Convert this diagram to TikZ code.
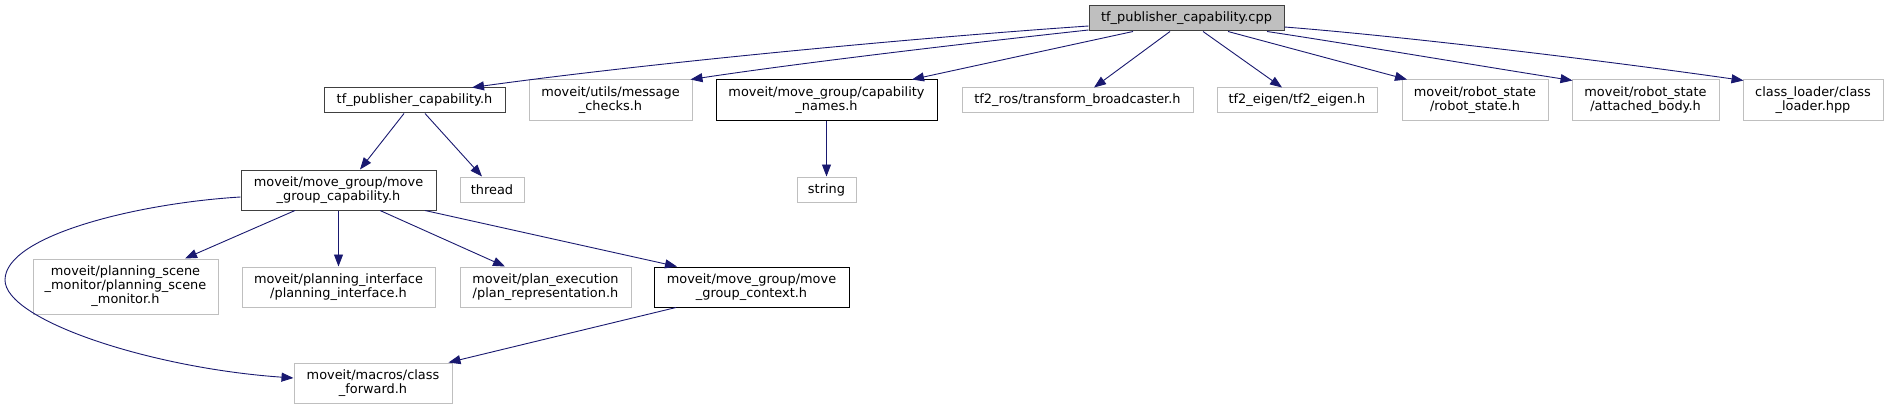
\documentclass[tikz,border=0pt]{standalone}
\usepackage{fontspec}
\setmainfont{DejaVu Sans}
\usetikzlibrary{arrows.meta,calc}
\definecolor{edgeblue}{RGB}{25,25,112}
\definecolor{greyline}{RGB}{191,191,191}
\definecolor{rootfill}{RGB}{191,191,191}
\definecolor{darkline}{RGB}{64,64,64}
\tikzset{
  base/.style={rectangle, inner sep=0pt, align=center, font=\fontsize{12.9}{14}\selectfont},
  rootbox/.style={base, draw=darkline, fill=rootfill, line width=1pt},
  docbox/.style={base, draw=black, line width=1pt},
  dgbox/.style={base, draw=darkline, line width=1pt},
  extbox/.style={base, draw=greyline, line width=1pt},
  dep/.style={draw=edgeblue, line width=0.9pt, -{Triangle[length=12pt,width=9pt]}, fill=none},
}
\begin{document}
\begin{tikzpicture}[x=1pt,y=-1pt]
\useasboundingbox[fill=white] (0,0) rectangle (1889,409);
% nodes
\node[rootbox, minimum width=195pt, minimum height=25pt] (cpp) at (1186.5,18.5) {tf\_publisher\_capability.cpp};
\node[dgbox, minimum width=181pt, minimum height=25pt] (tfh) at (414.5,100.5) {tf\_publisher\_capability.h};
\node[extbox, minimum width=163pt, minimum height=41pt] (msg) at (610.5,100.5) {moveit/utils/message\\\_checks.h};
\node[docbox, minimum width=221pt, minimum height=41pt] (capn) at (826.5,100.5) {moveit/move\_group/capability\\\_names.h};
\node[extbox, minimum width=231pt, minimum height=25pt] (tfb) at (1077.5,100.5) {tf2\_ros/transform\_broadcaster.h};
\node[extbox, minimum width=160pt, minimum height=25pt] (eig) at (1297,100.5) {tf2\_eigen/tf2\_eigen.h};
\node[extbox, minimum width=146pt, minimum height=41pt] (rs) at (1475,100.5) {moveit/robot\_state\\/robot\_state.h};
\node[extbox, minimum width=147pt, minimum height=41pt] (ab) at (1645.5,100.5) {moveit/robot\_state\\/attached\_body.h};
\node[extbox, minimum width=140pt, minimum height=41pt] (cl) at (1813,100.5) {class\_loader/class\\\_loader.hpp};
\node[dgbox, minimum width=195pt, minimum height=40pt] (mgc) at (338.5,190) {moveit/move\_group/move\\\_group\_capability.h};
\node[extbox, minimum width=64pt, minimum height=25pt] (thr) at (492,189.5) {thread};
\node[extbox, minimum width=59pt, minimum height=25pt] (str) at (826.5,189.5) {string};
\node[extbox, minimum width=185pt, minimum height=55pt] (psm) at (125.5,286.5) {moveit/planning\_scene\\\_monitor/planning\_scene\\\_monitor.h};
\node[extbox, minimum width=193pt, minimum height=40pt] (pi) at (338.5,287) {moveit/planning\_interface\\/planning\_interface.h};
\node[extbox, minimum width=171pt, minimum height=40pt] (pr) at (545.5,287) {moveit/plan\_execution\\/plan\_representation.h};
\node[docbox, minimum width=195pt, minimum height=40pt] (mgctx) at (751.5,287) {moveit/move\_group/move\\\_group\_context.h};
\node[extbox, minimum width=158pt, minimum height=40pt] (cf) at (373,383) {moveit/macros/class\\\_forward.h};
% edges from the cpp file
\draw[dep] ($(cpp.west)+(0,7.5)$) .. controls (899,39) and (642,64) .. ($(tfh.north)+(57.5,0)$);
\draw[dep] ($(cpp.west)+(0,11.5)$) .. controls (960,44) and (800,63) .. ($(msg.north east)+(-2,0)$);
\draw[dep] ($(cpp.south)+(-53.5,0)$) -- ($(capn.north)+(85.5,0)$);
\draw[dep] ($(cpp.south)+(-16.5,0)$) -- ($(tfb.north)+(16.5,0)$);
\draw[dep] ($(cpp.south)+(16.5,0)$) -- ($(eig.north)+(-15,0)$);
\draw[dep] ($(cpp.south)+(41.5,0)$) -- ($(rs.north)+(-68,0)$);
\draw[dep] ($(cpp.south)+(80.5,0)$) .. controls (1350,44) and (1480,66) .. ($(ab.north west)+(1,1)$);
\draw[dep] ($(cpp.east)+(0,8.5)$) .. controls (1400,36) and (1600,60) .. ($(cl.north west)+(1,1)$);
% second level
\draw[dep] ($(tfh.south)+(-10.5,0)$) -- ($(mgc.north)+(21.5,0)$);
\draw[dep] ($(tfh.south)+(10.5,0)$) -- ($(thr.north)+(-10,0)$);
\draw[dep] (capn.south) -- (str.north);
% third level
\draw[dep] ($(mgc.south)+(-43.5,0)$) -- ($(psm.north)+(59.5,0)$);
\draw[dep] (mgc.south) -- (pi.north);
\draw[dep] ($(mgc.south)+(41.5,0)$) -- ($(pr.north)+(-40.5,0)$);
\draw[dep] ($(mgc.south)+(86.5,0)$) -- ($(mgctx.north)+(-74.5,0)$);
\draw[dep] ($(mgc.west)+(0,7)$) .. controls (140,203) and (5,235) .. (5,280) .. controls (5,320) and (150,368) .. ($(cf.west)+(0,-5)$);
\draw[dep] ($(mgctx.south)+(-75.5,0)$) -- ($(cf.north east)+(-4,0)$);
\end{tikzpicture}
\end{document}
